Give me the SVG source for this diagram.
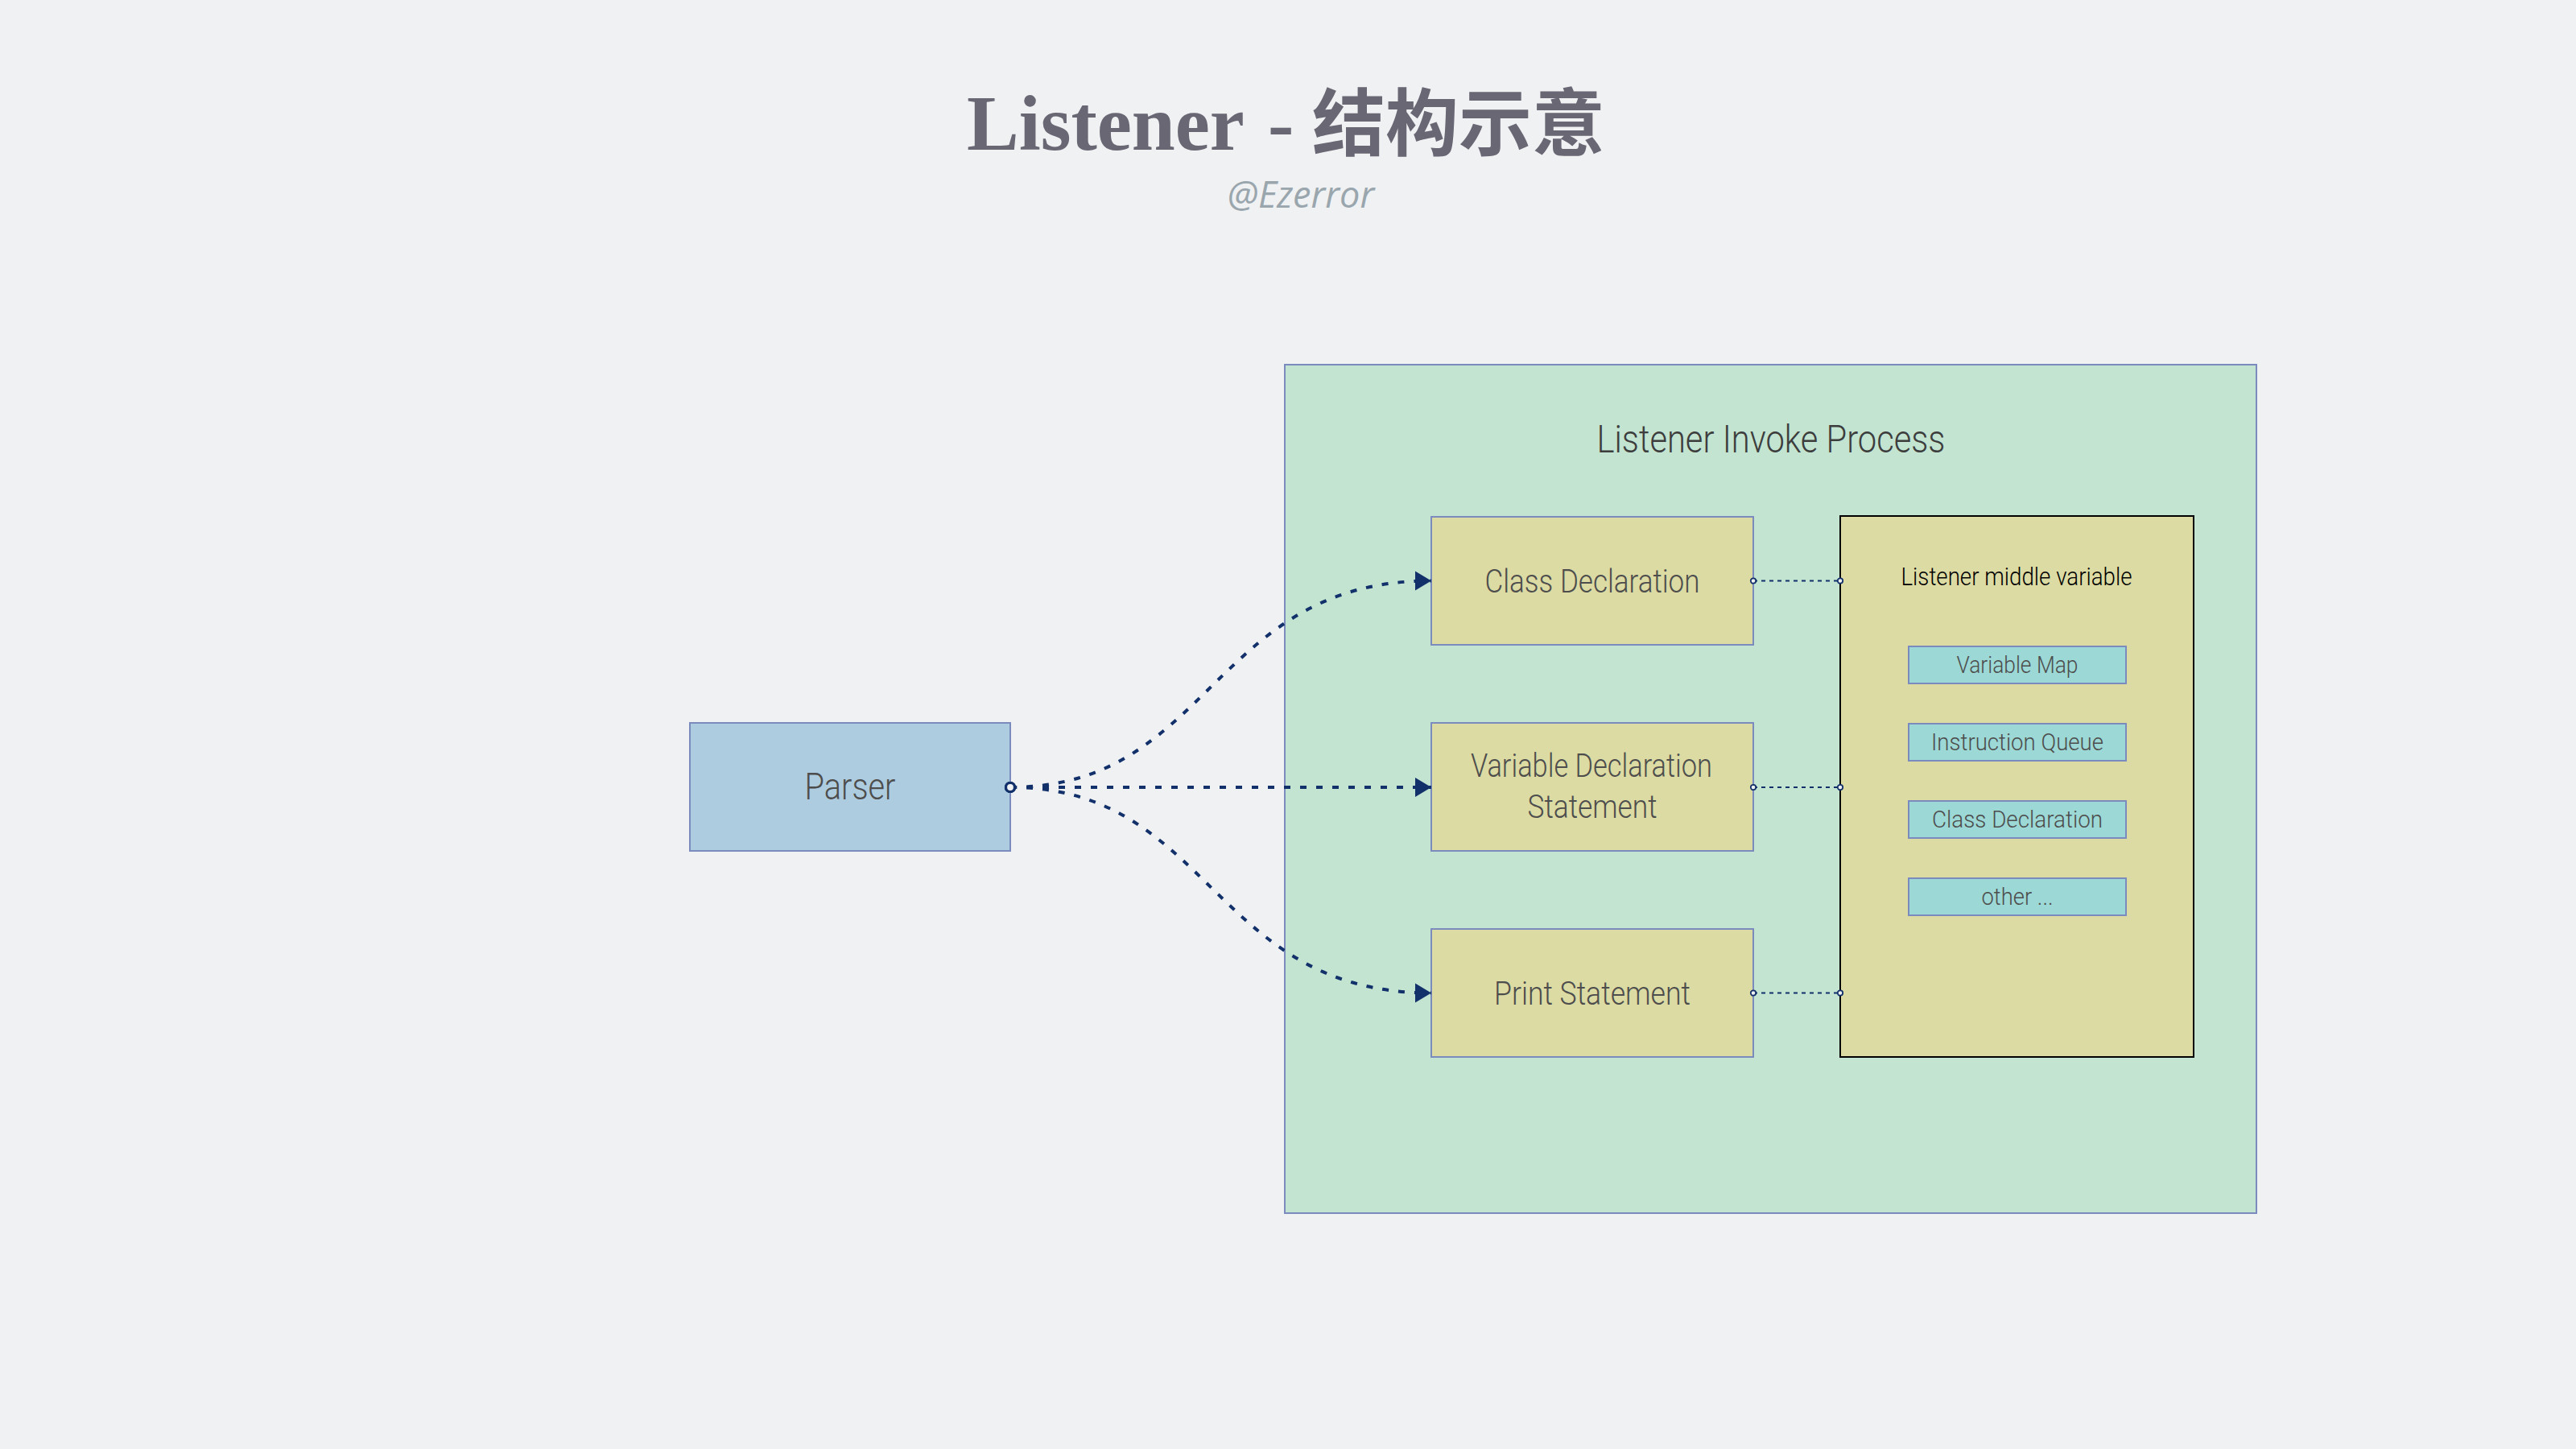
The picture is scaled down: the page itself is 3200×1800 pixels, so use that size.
<svg xmlns="http://www.w3.org/2000/svg" width="3200" height="1800" viewBox="0 0 3200 1800">
  <style>
    .lbl { font-family: Roboto, "Liberation Sans", sans-serif; font-weight: 300; fill: #4d4d4d; text-anchor: middle; }
    .box { stroke: #7b8bbd; stroke-width: 2; }
    .stmt { fill: #dcdba3; }
    .inner { fill: #9cd8d5; }
    .flow { fill: none; stroke: #12306a; stroke-width: 4; stroke-dasharray: 8 12; marker-start: url(#startDot); marker-end: url(#arrow); }
    .link { fill: none; stroke: #12306a; stroke-width: 2; stroke-dasharray: 5 5; marker-start: url(#smallDot); marker-end: url(#smallDot); }
  </style>
  <defs>
    <marker id="arrow" markerUnits="userSpaceOnUse" markerWidth="24" markerHeight="28" refX="21" refY="13" orient="auto">
      <path d="M1,1 L21,13 L1,25 Z" fill="#12306a"/>
    </marker>
    <marker id="startDot" markerUnits="userSpaceOnUse" markerWidth="18" markerHeight="18" refX="9" refY="9" orient="auto">
      <circle cx="9" cy="9" r="5.5" fill="#f0f1f3" stroke="#12306a" stroke-width="3.2"/>
    </marker>
    <marker id="smallDot" markerUnits="userSpaceOnUse" markerWidth="10" markerHeight="10" refX="5" refY="5" orient="auto">
      <circle cx="5" cy="5" r="3.2" fill="#f0f1f3" stroke="#12306a" stroke-width="1.8"/>
    </marker>
  </defs>

  <rect x="0" y="0" width="3200" height="1800" fill="#f0f1f3"/>

  <g id="title">
    <text y="186" font-family="'Liberation Serif', 'Noto Sans CJK SC', serif" font-weight="bold" font-size="97" fill="#696773"><tspan x="1201">Listener</tspan><tspan x="1575">-</tspan><tspan x="1630" font-size="91">结构示意</tspan></text>
    <text x="1616" y="258" font-family="'Open Sans', 'Noto Sans', sans-serif" font-style="italic" font-size="45" fill="#9aa6ad" text-anchor="middle">@Ezerror</text>
  </g>

  <g id="listener-invoke-process">
    <rect x="1596" y="453" width="1207" height="1054" fill="#c2e4d1" stroke="#7b8bbd" stroke-width="2"/>
    <text class="lbl" x="2200" y="562" font-size="48" style="fill:#3d3d3d" textLength="433" lengthAdjust="spacingAndGlyphs">Listener Invoke Process</text>
  </g>

  <g id="parser">
    <rect class="box" x="857" y="898" width="398" height="159" fill="#aecce0"/>
    <text class="lbl" x="1056" y="993" font-size="46" textLength="113" lengthAdjust="spacingAndGlyphs">Parser</text>
  </g>

  <g id="class-declaration">
    <rect class="box stmt" x="1778" y="642" width="400" height="159"/>
    <text class="lbl" x="1978" y="736" font-size="40" textLength="267" lengthAdjust="spacingAndGlyphs">Class Declaration</text>
  </g>

  <g id="variable-declaration-statement">
    <rect class="box stmt" x="1778" y="898" width="400" height="159"/>
    <text class="lbl" x="1977" y="965" font-size="40" textLength="300" lengthAdjust="spacingAndGlyphs">Variable Declaration</text>
    <text class="lbl" x="1978" y="1016" font-size="40" textLength="161" lengthAdjust="spacingAndGlyphs">Statement</text>
  </g>

  <g id="print-statement">
    <rect class="box stmt" x="1778" y="1154" width="400" height="159"/>
    <text class="lbl" x="1978" y="1248" font-size="40" textLength="244" lengthAdjust="spacingAndGlyphs">Print Statement</text>
  </g>

  <g id="listener-middle-variable">
    <rect x="2286" y="641" width="439" height="672" fill="#dcdba3" stroke="#000000" stroke-width="2"/>
    <text class="lbl" x="2505" y="727" font-size="31" style="fill:#000000" textLength="287" lengthAdjust="spacingAndGlyphs">Listener middle variable</text>
  </g>

  <g id="variable-map">
    <rect class="box inner" x="2371" y="803" width="270" height="46"/>
    <text class="lbl" x="2506" y="836" font-size="30" textLength="151" lengthAdjust="spacingAndGlyphs">Variable Map</text>
  </g>
  <g id="instruction-queue">
    <rect class="box inner" x="2371" y="899" width="270" height="46"/>
    <text class="lbl" x="2506" y="932" font-size="30" textLength="214" lengthAdjust="spacingAndGlyphs">Instruction Queue</text>
  </g>
  <g id="class-declaration-var">
    <rect class="box inner" x="2371" y="995" width="270" height="46"/>
    <text class="lbl" x="2506" y="1028" font-size="30" textLength="212" lengthAdjust="spacingAndGlyphs">Class Declaration</text>
  </g>
  <g id="other">
    <rect class="box inner" x="2371" y="1091" width="270" height="46"/>
    <text class="lbl" x="2506" y="1124" font-size="30" textLength="89" lengthAdjust="spacingAndGlyphs">other ...</text>
  </g>

  <g id="connectors">
    <path class="flow" d="M1255,978 C1505,978 1505,721.5 1778,721.5"/>
    <path class="flow" d="M1255,978 L1778,978"/>
    <path class="flow" d="M1255,978 C1505,978 1505,1233.5 1778,1233.5"/>
    <path class="link" d="M2178,721.5 L2286,721.5"/>
    <path class="link" d="M2178,978 L2286,978"/>
    <path class="link" d="M2178,1233.5 L2286,1233.5"/>
  </g>
</svg>
